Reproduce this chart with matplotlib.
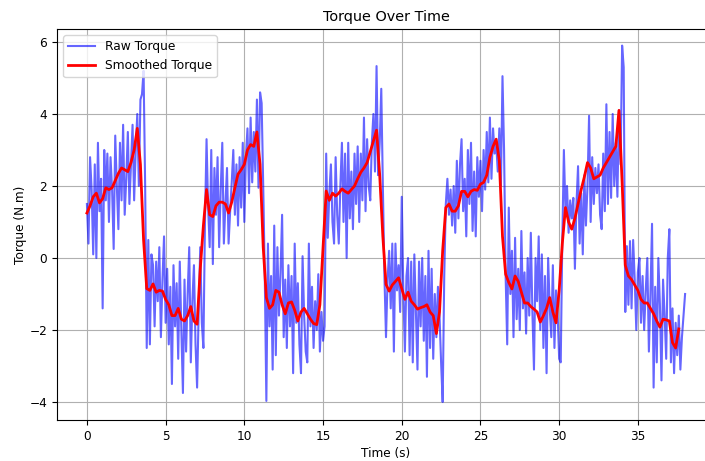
import numpy as np
import matplotlib
matplotlib.use('Agg')
import matplotlib.pyplot as plt

# raw torque, sampled every 0.1 s (one row per second)
raw_torque = [
    1.5, 0.4, 2.8, 1.9, 0.1, 2.6, 0.0, 3.2, 1.3, 2.2,
    -1.4, 3.0, 1.6, 2.9, 1.0, 2.8, 1.9, 0.25, 3.4, 2.0,
    0.8, 3.2, 1.6, 3.7, 1.2, 2.2, 3.5, 1.5, 2.6, 3.7,
    1.6, 3.0, 4.0, 2.0, 4.4, 4.55, 5.2, 2.0, -2.5, 0.5,
    -2.4, 0.1, -0.2, -1.9, -0.1, -1.2, 0.3, -2.2, -0.6, 0.6,
    -1.8, -0.3, -2.4, -0.8, -3.5, -0.2, -1.9, -0.7, -2.8, -0.1,
    -2.0, -3.75, -0.6, -2.6, -1.0, 0.3, -2.9, -1.2, -0.2, -2.4,
    -3.6, -1.5, 0.3, -1.8, -2.5, 1.0, 3.3, 1.4, 0.3, 3.0,
    -0.17, 2.5, 1.2, 2.8, 0.3, 1.9, 3.2, 0.4, 1.5, 2.5,
    0.4, 1.3, 2.1, 3.0, 1.2, 2.6, 0.9, 2.8, 1.4, 3.2,
    1.0, 2.8, 3.6, 1.8, 3.9, 2.1, 3.5, 2.4, 4.4, 1.95,
    4.6, 4.3, 2.0, -0.5, -3.97, 0.4, -1.9, -0.5, -3.1, 0.9,
    -2.7, 0.3, -1.6, -0.4, 1.2, -2.2, -0.6, -2.5, -0.2, -1.9,
    -0.5, -3.2, 0.4, -1.8, -0.7, -2.4, -3.2, 0.05, -1.6, -2.6,
    -2.9, 0.4, -1.9, -0.8, -2.5, -1.2, -2.0, -0.45, -2.6, -1.5,
    -2.3, -1.9, 2.9, 0.56, 1.8, 2.6, 1.0, 0.4, 2.8, 1.2,
    0.4, 2.0, 3.2, 1.0, 2.9, 0.0, 3.2, 1.1, 2.4, 0.8,
    2.9, 1.5, 3.1, 1.0, 2.9, 1.6, 3.9, 1.3, 3.3, 2.0,
    1.6, 3.2, 4.0, 2.4, 5.33, 2.3, 3.2, 4.7, 2.0, -0.5,
    -2.2, -0.6, 0.2, -1.4, 0.4, -2.6, 0.4, -0.9, -0.2, -1.5,
    1.7, -0.9, -2.6, -0.5, 0.0, -2.7, -0.1, -2.9, 0.1, -1.5,
    -3.1, -0.1, -1.9, 0.0, -2.3, -0.5, -3.3, 0.2, -2.5, -0.3,
    -2.8, -1.0, -2.2, -0.8, -1.6, -2.9, -4.0, -0.5, 1.5, 2.2,
    1.2, 1.9, 0.9, 2.0, 0.7, 2.7, 1.1, 2.6, 3.3, 1.3,
    2.2, 0.6, 3.0, 1.5, 3.2, 0.75, 2.4, 0.6, 2.8, 1.7,
    2.7, 1.3, 3.0, 1.9, 3.5, 2.1, 3.9, 2.2, 3.6, 2.9,
    3.2, 2.4, 3.6, 2.0, 5.05, 3.0, -0.5, -2.4, 1.4, -1.0,
    0.2, -2.2, 0.56, -1.7, -0.3, -2.0, 0.75, -1.4, -0.4, -2.1,
    0.0, -1.6, 0.7, -1.5, -3.1, 0.0, -1.2, 0.6, -2.0, 0.1,
    -2.5, -0.5, -3.2, 0.0, -1.4, -2.2, -0.2, -2.5, -0.9, -1.5,
    -2.8, -2.9, 0.5, 3.0, 1.3, 2.0, 0.7, 1.6, 1.1, 1.67,
    -0.3, 1.5, 2.55, 0.4, 1.8, 0.1, 2.3, 0.9, 2.0, 3.95,
    1.0, 2.8, 1.5, 2.5, 1.8, 2.6, 1.2, 0.8, 2.9, 1.3,
    4.27, 1.5, 3.5, 1.67, 4.0, 2.0, 3.2, 1.7, 4.1, 2.6,
    5.9, 5.3, -1.5, 0.33, -1.3, 0.47, -1.4, 0.5, -0.6, -2.0,
    -0.4, 0.0, -1.8, -0.5, -2.0, -0.9, 0.0, -2.6, -1.0, 0.95,
    -3.6, -0.8, -2.9, 0.0, -1.3, -3.4, -0.6, -1.6, -2.8, 0.0,
    0.8, -2.9, -1.4, -3.2, -1.8, -2.7, -1.6, -3.1, -2.2, -1.6,
    -1.0,
]

# smoothed torque, read every 0.2 s
smooth_torque = [
    1.25, 1.45, 1.7, 1.8, 1.53, 1.65, 1.95, 1.9, 1.95, 2.15,
    2.35, 2.5, 2.45, 2.4, 2.65, 3.0, 3.6, 2.6, 0.5, -0.85,
    -0.9, -0.72, -0.95, -0.9, -0.92, -1.15, -1.3, -1.6, -1.6, -1.4,
    -1.7, -1.75, -1.6, -1.35, -1.75, -1.84, -0.3, 0.9, 1.9, 1.2,
    1.15, 1.45, 1.55, 1.55, 1.5, 1.25, 1.55, 1.95, 2.33, 2.45,
    2.6, 3.0, 3.15, 3.1, 3.5, 2.6, 0.3, -1.1, -1.4, -1.3,
    -0.9, -0.95, -1.3, -1.55, -1.25, -1.22, -1.45, -1.75, -1.5, -1.4,
    -1.55, -1.7, -1.82, -1.85, -1.3, 0.3, 1.86, 1.6, 1.8, 1.72,
    1.8, 1.92, 1.85, 1.8, 1.9, 2.0, 2.2, 2.38, 2.5, 2.65,
    2.95, 3.25, 3.55, 2.3, 0.6, -0.73, -0.92, -0.75, -0.65, -0.55,
    -0.85, -1.15, -0.95, -1.2, -1.3, -1.42, -1.38, -1.35, -1.3, -1.5,
    -1.6, -2.1, -1.5, 0.2, 1.4, 1.5, 1.3, 1.3, 1.45, 1.85,
    1.85, 1.7, 1.85, 1.9, 1.88, 2.05, 2.1, 2.3, 2.8, 3.1,
    3.3, 2.7, 0.6, -0.45, -0.68, -0.86, -0.5, -0.65, -0.95, -1.25,
    -1.25, -1.35, -1.42, -1.5, -1.78, -1.6, -1.4, -1.1, -1.5, -1.8,
    -0.9, 0.4, 1.4, 1.0, 0.8, 1.1, 1.5, 1.9, 2.25, 2.65,
    2.5, 2.2, 2.25, 2.3, 2.5, 2.65, 2.8, 2.95, 3.1, 4.1,
    2.1, -0.2, -0.5, -0.6, -0.75, -0.9, -1.15, -1.25, -1.25, -1.4,
    -1.55, -1.75, -1.92, -1.7, -1.72, -1.75, -2.35, -2.5, -1.97,
]

t_raw = np.arange(len(raw_torque)) * 0.1
t_smooth = np.arange(len(smooth_torque)) * 0.2

plt.rcParams['font.size'] = 8.7

fig = plt.figure(figsize=(7.05, 4.61), dpi=100)
# axes run past the right edge, as in the reference
ax = fig.add_axes([57 / 705, 41 / 461, 658 / 705, 391 / 461])

ax.plot(t_raw, raw_torque, color='blue', alpha=0.6, linewidth=1.5, label='Raw Torque')
ax.plot(t_smooth, smooth_torque, color='red', linewidth=2, label='Smoothed Torque')

ax.set_xlim(-1.9, 39.9)
ax.set_ylim(-4.5, 6.36)
ax.set_xticks([0, 5, 10, 15, 20, 25, 30, 35])
ax.set_yticks([-4, -2, 0, 2, 4, 6])
ax.grid(True)
ax.set_title('Torque Over Time', fontsize=10.4)
ax.set_xlabel('Time (s)', labelpad=3)
ax.set_ylabel('Torque (N.m)', labelpad=2)
ax.legend(loc='upper left', fontsize=8.8, handlelength=2.2)

fig.savefig('out.png', dpi=100)
